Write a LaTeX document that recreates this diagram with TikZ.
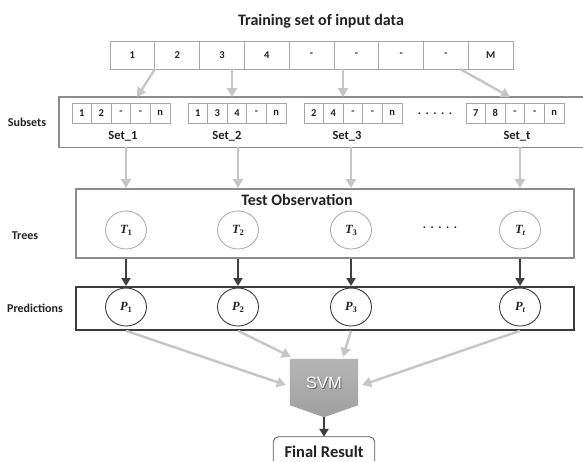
\documentclass[tikz,border=0pt]{standalone}
\usepackage{fontspec}
\setmainfont{Carlito}
\newfontfamily\serifm{Liberation Serif}
\newfontfamily\svmfont{Liberation Sans}
\usetikzlibrary{arrows.meta,calc,shapes.geometric}
\definecolor{cellgray}{HTML}{A6A6A6}
\definecolor{boxgray}{HTML}{8C8C8C}
\definecolor{darkbox}{HTML}{3C3C3C}
\definecolor{garrow}{HTML}{C6C6C6}
\definecolor{darrow}{HTML}{3F3F3F}
\definecolor{svmgray}{HTML}{A8A8A8}
\definecolor{txt}{HTML}{222222}
\newcommand{\tsym}[2]{{\serifm\bfseries\itshape #1}\raisebox{-0.35ex}{\serifm\bfseries\fontsize{8.5}{8.5}\selectfont #2}}
\begin{document}
\begin{tikzpicture}[x=1pt,y=-1pt,
  every node/.style={text=txt},
  cell/.style={draw=cellgray, line width=0.8pt, minimum width=44.8pt, minimum height=28pt, inner sep=0pt, font=\bfseries\fontsize{10.5}{11}\selectfont},
  scell/.style={draw=cellgray, line width=0.7pt, minimum width=19.6pt, minimum height=20pt, inner sep=0pt, font=\bfseries\fontsize{10.5}{11}\selectfont},
  graybox/.style={draw=boxgray, line width=1.8pt, inner sep=0pt, anchor=north west},
  darkframe/.style={draw=darkbox, line width=1.8pt, inner sep=0pt, anchor=north west},
  tcirc/.style={draw=cellgray, line width=0.8pt, ellipse, minimum width=41pt, minimum height=38pt, inner sep=0pt, font=\fontsize{12.5}{12.5}\selectfont},
  pcirc/.style={draw=darkbox, line width=0.9pt, ellipse, minimum width=41pt, minimum height=38pt, inner sep=0pt, font=\fontsize{12.5}{12.5}\selectfont},
  rowlabel/.style={font=\bfseries\fontsize{12}{13}\selectfont},
  setlabel/.style={font=\bfseries\fontsize{12.5}{13}\selectfont},
  garr/.style={draw=garrow, line width=2.4pt, -{Triangle[length=9pt,width=10pt]}},
  darr/.style={draw=darrow, line width=2.4pt, -{Triangle[length=8pt,width=9pt]}},
]
\useasboundingbox (0,0) rectangle (583,461);
\fill[white] (0,0) rectangle (583,461);

% title
\node[font=\bfseries\fontsize{16}{17}\selectfont] (title) at (321,21) {Training set of input data};

% input strip
\foreach \t [count=\i] in {1,2,3,4,-,-,-,-,M}
  \node[cell] (c\i) at ({110+44.8*(\i-0.5)},55) {\t};

% subsets box (runs off the right edge)
\node[inner sep=0pt, anchor=north west, minimum width=524pt, minimum height=50pt] (subsets) at (59,97) {};
\draw[boxgray, line width=1.8pt] (subsets.north east) -- (subsets.north west) -- (subsets.south west) -- (subsets.south east);
\node[rowlabel] (lsub) at (27,122) {Subsets};

\foreach \t [count=\i] in {1,2,-,-,n}
  \node[scell] (sa\i) at ({72+19.6*(\i-0.5)},113) {\t};
\foreach \t [count=\i] in {1,3,4,-,n}
  \node[scell] (sb\i) at ({188+19.6*(\i-0.5)},113) {\t};
\foreach \t [count=\i] in {2,4,-,-,n}
  \node[scell] (sc\i) at ({304+19.6*(\i-0.5)},113) {\t};
\foreach \t [count=\i] in {7,8,-,-,n}
  \node[scell] (sd\i) at ({466+19.6*(\i-0.5)},113) {\t};
\node[setlabel] (set1) at (123,136) {Set\_1};
\node[setlabel] (set2) at (227,136) {Set\_2};
\node[setlabel] (set3) at (347,136) {Set\_3};
\node[setlabel] (sett) at (517,136) {Set\_t};
\node[font=\bfseries\fontsize{12}{12}\selectfont] (sdots) at (435,114) {.\hspace{4.5pt}.\hspace{4.5pt}.\hspace{4.5pt}.\hspace{4.5pt}.};

% arrows strip -> subsets
\coordinate (a1s) at (155,69); \coordinate (a1e) at (137,97);
\coordinate (a2s) at (232,69); \coordinate (a2e) at (232,97);
\coordinate (a3s) at (343,69); \coordinate (a3e) at (343,97);
\coordinate (a4s) at (460,69); \coordinate (a4e) at (510,97);
\draw[garr] (a1s) -- (a1e);
\draw[garr] (a2s) -- (a2e);
\draw[garr] (a3s) -- (a3e);
\draw[garr] (a4s) -- (a4e);

% tests box
\node[graybox, minimum width=498pt, minimum height=69pt] (tests) at (75,188) {};
\node[font=\bfseries\fontsize{16}{17}\selectfont] (testobs) at (297,200) {Test Observation};
\node[rowlabel] (ltrees) at (25,236) {Trees};
\node[tcirc] (T1) at (126,230) {\tsym{T}{1}};
\node[tcirc] (T2) at (238,230) {\tsym{T}{2}};
\node[tcirc] (T3) at (351,230) {\tsym{T}{3}};
\node[tcirc] (Tt) at (520,230) {\tsym{T}{\itshape t}};
\node[font=\bfseries\fontsize{12}{12}\selectfont] (tdots) at (440,228) {.\hspace{4.5pt}.\hspace{4.5pt}.\hspace{4.5pt}.\hspace{4.5pt}.};

% arrows subsets -> tests
\foreach \n in {T1,T2,T3,Tt}
  \draw[garr] (subsets.south -| \n) -- (tests.north -| \n);

% predictions box
\node[darkframe, minimum width=498pt, minimum height=43pt] (preds) at (75,286) {};
\node[rowlabel] (lpred) at (35,308) {Predictions};
\node[pcirc] (P1) at (126,307) {\tsym{P}{1}};
\node[pcirc] (P2) at (238,307) {\tsym{P}{2}};
\node[pcirc] (P3) at (351,307) {\tsym{P}{3}};
\node[pcirc] (Pt) at (520,307) {\tsym{P}{\itshape t}};

\foreach \n in {1,2,3,t}
  \draw[darr] (tests.south -| T\n) -- (preds.north -| P\n);

% SVM
\node[minimum width=68pt, minimum height=58pt, inner sep=0pt] (svm) at (324,388) {};
\shade[top color=svmgray!85!white, bottom color=svmgray!95!black]
  (svm.north west) -- (svm.north east) -- ($(svm.south east)+(0,-12)$) -- (svm.south) -- ($(svm.south west)+(0,-12)$) -- cycle;
\node[font=\svmfont\fontsize{16.5}{16.5}\selectfont, text=black!60] (svmsh) at (324.9,383.9) {SVM};
\node[font=\svmfont\fontsize{16.5}{16.5}\selectfont, text=white] (svmtxt) at (324,383) {SVM};

\draw[garr] (preds.south -| P1) -- ($(svm.west)+(-4,-3)$);
\draw[garr] (preds.south -| P2) -- ($(svm.north west)+(1,-2)$);
\draw[garr] (preds.south -| P3) -- ($(svm.north)+(19,-2)$);
\draw[garr] (preds.south -| Pt) -- ($(svm.east)+(4,-3)$);

% final result (cut by bottom edge)
\node[inner sep=0pt, minimum width=101pt, minimum height=24pt] (final) at (324,449) {};
\draw[black!65, line width=0.8pt, rounded corners=5pt] (final.south west) -- (final.north west) -- (final.north east) -- (final.south east);
\node[font=\bfseries\fontsize{16.5}{17}\selectfont] (finaltxt) at (324,452) {Final Result};
\draw[darr] (svm.south) -- (final.north);
\end{tikzpicture}
\end{document}
